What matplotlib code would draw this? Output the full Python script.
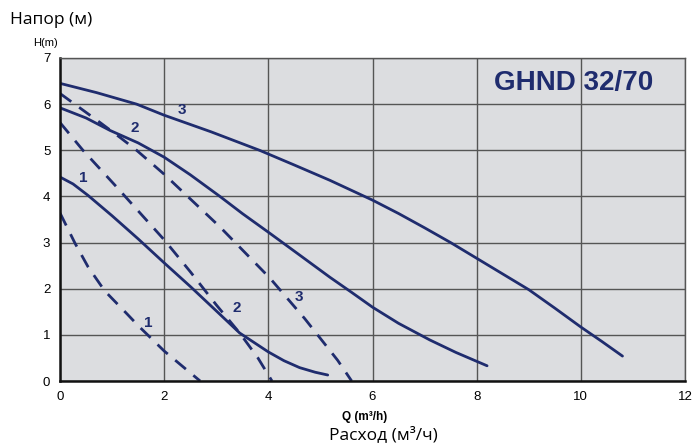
import matplotlib.pyplot as plt

# Pump curves GHND 32/70, speeds 1..3 (solid = H(Q), dashed = system lines)
q_s1 = [0, 0.25, 0.54, 1.0, 1.5, 2.0, 2.5, 3.0, 3.45, 4.0, 4.3, 4.6, 4.9, 5.14]
h_s1 = [4.42, 4.27, 4.02, 3.58, 3.08, 2.56, 2.05, 1.52, 1.04, 0.63, 0.44, 0.29, 0.19, 0.13]

q_s2 = [0, 0.5, 0.96, 1.5, 2.0, 2.5, 3.07, 3.5, 4.03, 4.6, 5.18, 5.6, 6.0, 6.5, 7.1, 7.6, 8.2]
h_s2 = [5.92, 5.7, 5.43, 5.16, 4.85, 4.47, 4.0, 3.63, 3.2, 2.73, 2.25, 1.92, 1.6, 1.25, 0.89, 0.62, 0.33]

q_s3 = [0, 0.7, 1.47, 2.0, 2.9, 3.83, 4.5, 5.18, 6.0, 6.5, 7.0, 7.5, 8.0, 8.5, 9.0, 9.5, 10.0, 10.4, 10.8]
h_s3 = [6.45, 6.25, 6.0, 5.76, 5.4, 5.0, 4.68, 4.35, 3.92, 3.63, 3.32, 3.0, 2.66, 2.32, 1.98, 1.58, 1.17, 0.86, 0.54]

q_d1 = [0, 0.29, 0.54, 0.86, 1.29, 1.5, 2.0, 2.35, 2.69]
h_d1 = [3.64, 2.98, 2.47, 1.95, 1.45, 1.2, 0.65, 0.32, 0]

q_d2 = [0, 0.44, 1.09, 2.0, 2.5, 3.0, 3.45, 3.8, 4.07]
h_d2 = [5.6, 5.0, 4.2, 3.06, 2.37, 1.65, 1.04, 0.5, 0]

q_d3 = [0, 0.77, 1.15, 1.47, 2.0, 3.07, 4.03, 4.7, 5.33, 5.6]
h_d3 = [6.23, 5.6, 5.28, 5.0, 4.48, 3.34, 2.23, 1.35, 0.45, 0]

labels = ['1', '2', '3', '1', '2', '3']
label_q = [0.44, 1.44, 2.34, 1.69, 3.4, 4.59]
label_h = [4.4, 5.49, 5.88, 1.26, 1.58, 1.82]

navy = '#1f2c6e'

fig = plt.figure(figsize=(6.94, 4.45), dpi=100)
ax = fig.add_axes([0.0865, 0.1438, 0.9005, 0.7259])
ax.set_facecolor('#dcdde0')

for q, h in [(q_s1, h_s1), (q_s2, h_s2), (q_s3, h_s3)]:
    ax.plot(q, h, color=navy, lw=2.0, solid_capstyle='round', solid_joinstyle='round')
for q, h in [(q_d1, h_d1), (q_d2, h_d2), (q_d3, h_d3)]:
    ax.plot(q, h, color=navy, lw=2.0, dashes=(5, 3.5))

for t, x, y in zip(labels, label_q, label_h):
    ax.text(x, y, t, color=navy, fontsize=11, fontweight='bold',
            family='Liberation Sans', ha='center', va='center')

ax.text(11.4, 6.45, 'GHND 32/70', color=navy, fontsize=20, fontweight='bold',
        family='Liberation Sans', ha='right', va='center')

ax.set_xlim(0, 12)
ax.set_ylim(0, 7)
ax.set_xticks(range(0, 13, 2))
ax.set_yticks(range(0, 8))
ax.grid(True, color='#555555', lw=1)
ax.set_axisbelow(True)
ax.tick_params(length=0, labelsize=9.5, pad=7)
for lbl in ax.get_xticklabels() + ax.get_yticklabels():
    lbl.set_family('Liberation Sans')

for s in ['top', 'right']:
    ax.spines[s].set_color('#555555')
    ax.spines[s].set_linewidth(1)
for s in ['left', 'bottom']:
    ax.spines[s].set_color('#111111')
    ax.spines[s].set_linewidth(1.8)

fig.text(0.015, 0.955, 'Напор (м)', fontsize=12.5, family='Open Sans', va='center')
fig.text(0.065, 0.903, 'H(m)', fontsize=8, family='Liberation Sans', va='center', ha='center')
fig.text(0.526, 0.064, 'Q (m³/h)', fontsize=8.5, fontweight='bold',
         family='Liberation Sans', ha='center', va='center')
fig.text(0.552, 0.024, 'Расход (м³/ч)', fontsize=12.5, family='Open Sans',
         ha='center', va='center')

fig.savefig('out.png', dpi=100)
